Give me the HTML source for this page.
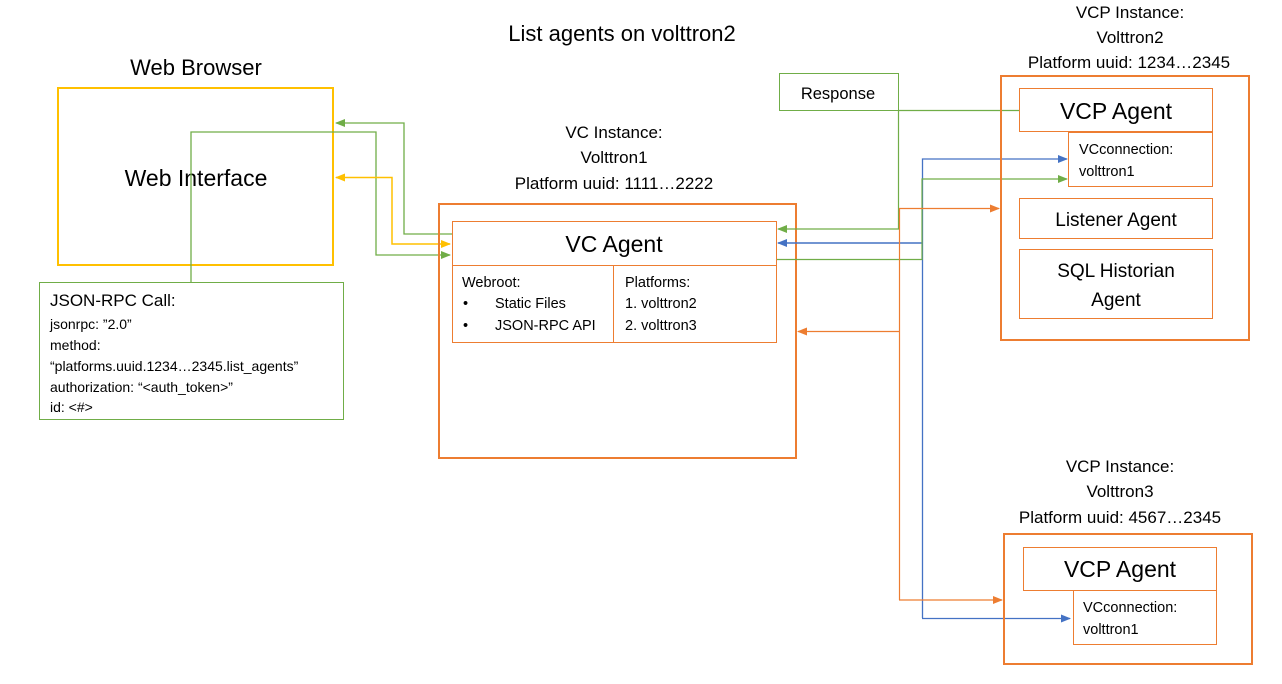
<!DOCTYPE html>
<html><head><meta charset="utf-8"><style>
html,body{margin:0;padding:0;background:#fff;}
svg{display:block;}
text{font-family:"Liberation Sans",sans-serif;fill:#000;}
</style></head><body>
<svg width="1282" height="684" viewBox="0 0 1282 684" xmlns="http://www.w3.org/2000/svg">
<defs>
<marker id="ag" markerWidth="10" markerHeight="8" refX="9" refY="4" orient="auto" markerUnits="userSpaceOnUse"><path d="M0,0 L10,4 L0,8z" fill="#70ad47"/></marker>
<marker id="ay" markerWidth="10" markerHeight="8" refX="9" refY="4" orient="auto-start-reverse" markerUnits="userSpaceOnUse"><path d="M0,0 L10,4 L0,8z" fill="#ffc000"/></marker>
<marker id="ab" markerWidth="10" markerHeight="8" refX="9" refY="4" orient="auto" markerUnits="userSpaceOnUse"><path d="M0,0 L10,4 L0,8z" fill="#4472c4"/></marker>
<marker id="ao" markerWidth="10" markerHeight="8" refX="9" refY="4" orient="auto" markerUnits="userSpaceOnUse"><path d="M0,0 L10,4 L0,8z" fill="#ed7d31"/></marker>
</defs>

<text x="622" y="41" font-size="22" text-anchor="middle">List agents on volttron2</text>
<text x="196" y="75" font-size="22" text-anchor="middle">Web Browser</text>

<rect x="58" y="88" width="275" height="177" fill="none" stroke="#ffc000" stroke-width="2"/>
<text x="196" y="186" font-size="23" text-anchor="middle">Web Interface</text>

<rect x="39.5" y="282.5" width="304" height="137" fill="none" stroke="#70ad47" stroke-width="1"/>
<text x="50" y="306" font-size="17">JSON-RPC Call:</text>
<text x="50" y="329" font-size="14">jsonrpc: ”2.0”</text>
<text x="50" y="350" font-size="14">method:</text>
<text x="50" y="371" font-size="14">“platforms.uuid.1234…2345.list_agents”</text>
<text x="50" y="392" font-size="14">authorization: “&lt;auth_token&gt;”</text>
<text x="50" y="412" font-size="14">id: &lt;#&gt;</text>

<polyline points="191,282 191,132 376,132 376,255 450,255" fill="none" stroke="#70ad47" stroke-width="1.3" marker-end="url(#ag)"/>
<polyline points="452,234 404,234 404,123 336,123" fill="none" stroke="#70ad47" stroke-width="1.3" marker-end="url(#ag)"/>
<polyline points="336,177.5 392,177.5 392,244 450,244" fill="none" stroke="#ffc000" stroke-width="1.5" marker-start="url(#ay)" marker-end="url(#ay)"/>

<text x="614" y="138" font-size="17" text-anchor="middle">VC Instance:</text>
<text x="614" y="163" font-size="17" text-anchor="middle">Volttron1</text>
<text x="614" y="189" font-size="17" text-anchor="middle">Platform uuid: 1111…2222</text>
<rect x="439" y="204" width="357" height="254" fill="none" stroke="#ed7d31" stroke-width="2"/>
<rect x="452.5" y="221.5" width="324" height="121" fill="none" stroke="#ed7d31" stroke-width="1"/>
<line x1="452" y1="265.5" x2="777" y2="265.5" stroke="#ed7d31"/>
<line x1="613.5" y1="265" x2="613.5" y2="342" stroke="#ed7d31"/>
<text x="614" y="252" font-size="23" text-anchor="middle">VC Agent</text>
<text x="462" y="287" font-size="14.5">Webroot:</text>
<text x="463" y="308" font-size="14.5">•</text>
<text x="495" y="308" font-size="14.5">Static Files</text>
<text x="463" y="330" font-size="14.5">•</text>
<text x="495" y="330" font-size="14.5">JSON-RPC API</text>
<text x="625" y="287" font-size="14.5">Platforms:</text>
<text x="625" y="308" font-size="14.5">1. volttron2</text>
<text x="625" y="330" font-size="14.5">2. volttron3</text>

<rect x="779.5" y="73.5" width="119" height="37" fill="none" stroke="#70ad47" stroke-width="1"/>
<text x="838" y="99" font-size="16.5" text-anchor="middle">Response</text>
<line x1="898" y1="110.5" x2="1020" y2="110.5" stroke="#70ad47" stroke-width="1.2"/>
<polyline points="898.5,110 898.5,229 778,229" fill="none" stroke="#70ad47" stroke-width="1.2" marker-end="url(#ag)"/>

<polyline points="922,243 778,243" fill="none" stroke="#4472c4" stroke-width="1.6" marker-end="url(#ab)"/>
<polyline points="922.5,618 922.5,159 1067,159" fill="none" stroke="#4472c4" stroke-width="1.3" marker-end="url(#ab)"/>
<polyline points="922,618.5 1070,618.5" fill="none" stroke="#4472c4" stroke-width="1.3" marker-end="url(#ab)"/>

<polyline points="777,259.5 922,259.5 922,179 1067,179" fill="none" stroke="#70ad47" stroke-width="1.2" marker-end="url(#ag)"/>

<polyline points="899.5,600 899.5,208.5 999,208.5" fill="none" stroke="#ed7d31" stroke-width="1.2" marker-end="url(#ao)"/>
<polyline points="899,331.5 798,331.5" fill="none" stroke="#ed7d31" stroke-width="1.2" marker-end="url(#ao)"/>
<polyline points="899,600 1002,600" fill="none" stroke="#ed7d31" stroke-width="1.2" marker-end="url(#ao)"/>

<text x="1130" y="18" font-size="17" text-anchor="middle">VCP Instance:</text>
<text x="1130" y="43" font-size="17" text-anchor="middle">Volttron2</text>
<text x="1129" y="68" font-size="17" text-anchor="middle">Platform uuid: 1234…2345</text>
<rect x="1001" y="76" width="248" height="264" fill="none" stroke="#ed7d31" stroke-width="2"/>
<rect x="1019.5" y="88.5" width="193" height="43" fill="none" stroke="#ed7d31"/>
<text x="1116" y="119" font-size="23" text-anchor="middle">VCP Agent</text>
<rect x="1068.5" y="132.5" width="144" height="54" fill="none" stroke="#ed7d31"/>
<text x="1079" y="154" font-size="14.5">VCconnection:</text>
<text x="1079" y="176" font-size="14.5">volttron1</text>
<rect x="1019.5" y="198.5" width="193" height="40" fill="none" stroke="#ed7d31"/>
<text x="1116" y="226" font-size="19" text-anchor="middle">Listener Agent</text>
<rect x="1019.5" y="249.5" width="193" height="69" fill="none" stroke="#ed7d31"/>
<text x="1116" y="277" font-size="19" text-anchor="middle">SQL Historian</text>
<text x="1116" y="306" font-size="19" text-anchor="middle">Agent</text>

<text x="1120" y="472" font-size="17" text-anchor="middle">VCP Instance:</text>
<text x="1120" y="497" font-size="17" text-anchor="middle">Volttron3</text>
<text x="1120" y="523" font-size="17" text-anchor="middle">Platform uuid: 4567…2345</text>
<rect x="1004" y="534" width="248" height="130" fill="none" stroke="#ed7d31" stroke-width="2"/>
<rect x="1023.5" y="547.5" width="193" height="43" fill="none" stroke="#ed7d31"/>
<text x="1120" y="577" font-size="23" text-anchor="middle">VCP Agent</text>
<rect x="1073.5" y="590.5" width="143" height="54" fill="none" stroke="#ed7d31"/>
<text x="1083" y="612" font-size="14.5">VCconnection:</text>
<text x="1083" y="634" font-size="14.5">volttron1</text>
</svg>
</body></html>
